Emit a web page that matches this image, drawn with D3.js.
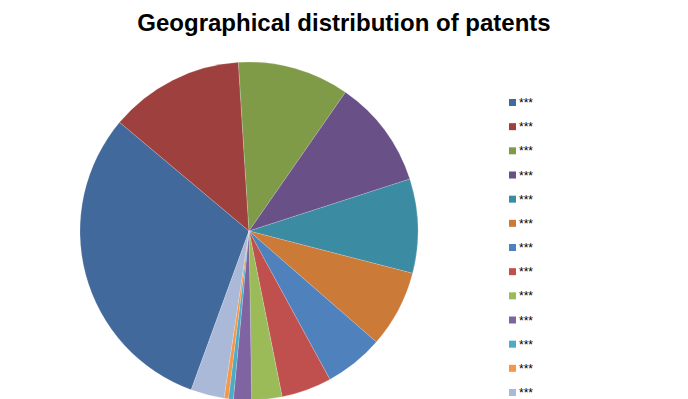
<!DOCTYPE html>
<html>
<head>
<meta charset="utf-8">
<script src="https://cdn.jsdelivr.net/npm/d3@7"></script>
<style>
  body { margin: 0; background: #fff; }
  svg { display: block; font-family: Arial, "Liberation Sans", sans-serif; }
</style>
</head>
<body>
<div id="chart"></div>
<script>
// data (slice sizes in degrees of the full circle)
const categories = ['***', '***', '***', '***', '***', '***', '***', '***', '***', '***', '***', '***', '***'];
const values = [110, 46.4, 38.4, 37.3, 32.4, 26.6, 20.3, 17.3, 10.4, 6.2, 1.7, 1.5, 11.5];
const colors = ['#41699b', '#9e413e', '#7f9b48', '#695087', '#3b8ba2', '#cb7a38',
                '#4f81bd', '#c0504d', '#9bbb59', '#8064a2', '#4bacc6', '#f79646', '#aab9d8'];

const width = 688, height = 399;
const cx = 249, cy = 231, radius = 169;

const svg = d3.select('#chart')
    .append('svg')
    .attr('width', width)
    .attr('height', height);

// Title
svg.append('text')
    .attr('x', 344)
    .attr('y', 31)
    .attr('text-anchor', 'middle')
    .attr('font-size', 24)
    .attr('font-weight', 'bold')
    .text('Geographical distribution of patents');

// Pie, first slice starts at the lower left and runs clockwise
const start = 200 * Math.PI / 180;
const pie = d3.pie()
    .sort(null)
    .startAngle(start)
    .endAngle(start + 2 * Math.PI);

const arc = d3.arc().innerRadius(0).outerRadius(radius);

svg.append('g')
    .attr('transform', `translate(${cx},${cy})`)
    .selectAll('path')
    .data(pie(values))
    .join('path')
    .attr('d', arc)
    .attr('fill', (d, i) => colors[i])
    .attr('stroke', '#ffffff')
    .attr('stroke-opacity', 0.35)
    .attr('stroke-width', 0.5);

// Legend
const legendY = d3.scalePoint()
    .domain(d3.range(categories.length))
    .range([99, 389]);

const legend = svg.append('g')
    .selectAll('g')
    .data(categories)
    .join('g')
    .attr('transform', (d, i) => `translate(509,${legendY(i)})`);

legend.append('rect')
    .attr('width', 7)
    .attr('height', 7)
    .attr('fill', (d, i) => colors[i]);

legend.append('text')
    .attr('x', 10)
    .attr('y', 8)
    .attr('font-size', 12)
    .attr('fill', '#000')
    .text(d => d);
</script>
</body>
</html>
